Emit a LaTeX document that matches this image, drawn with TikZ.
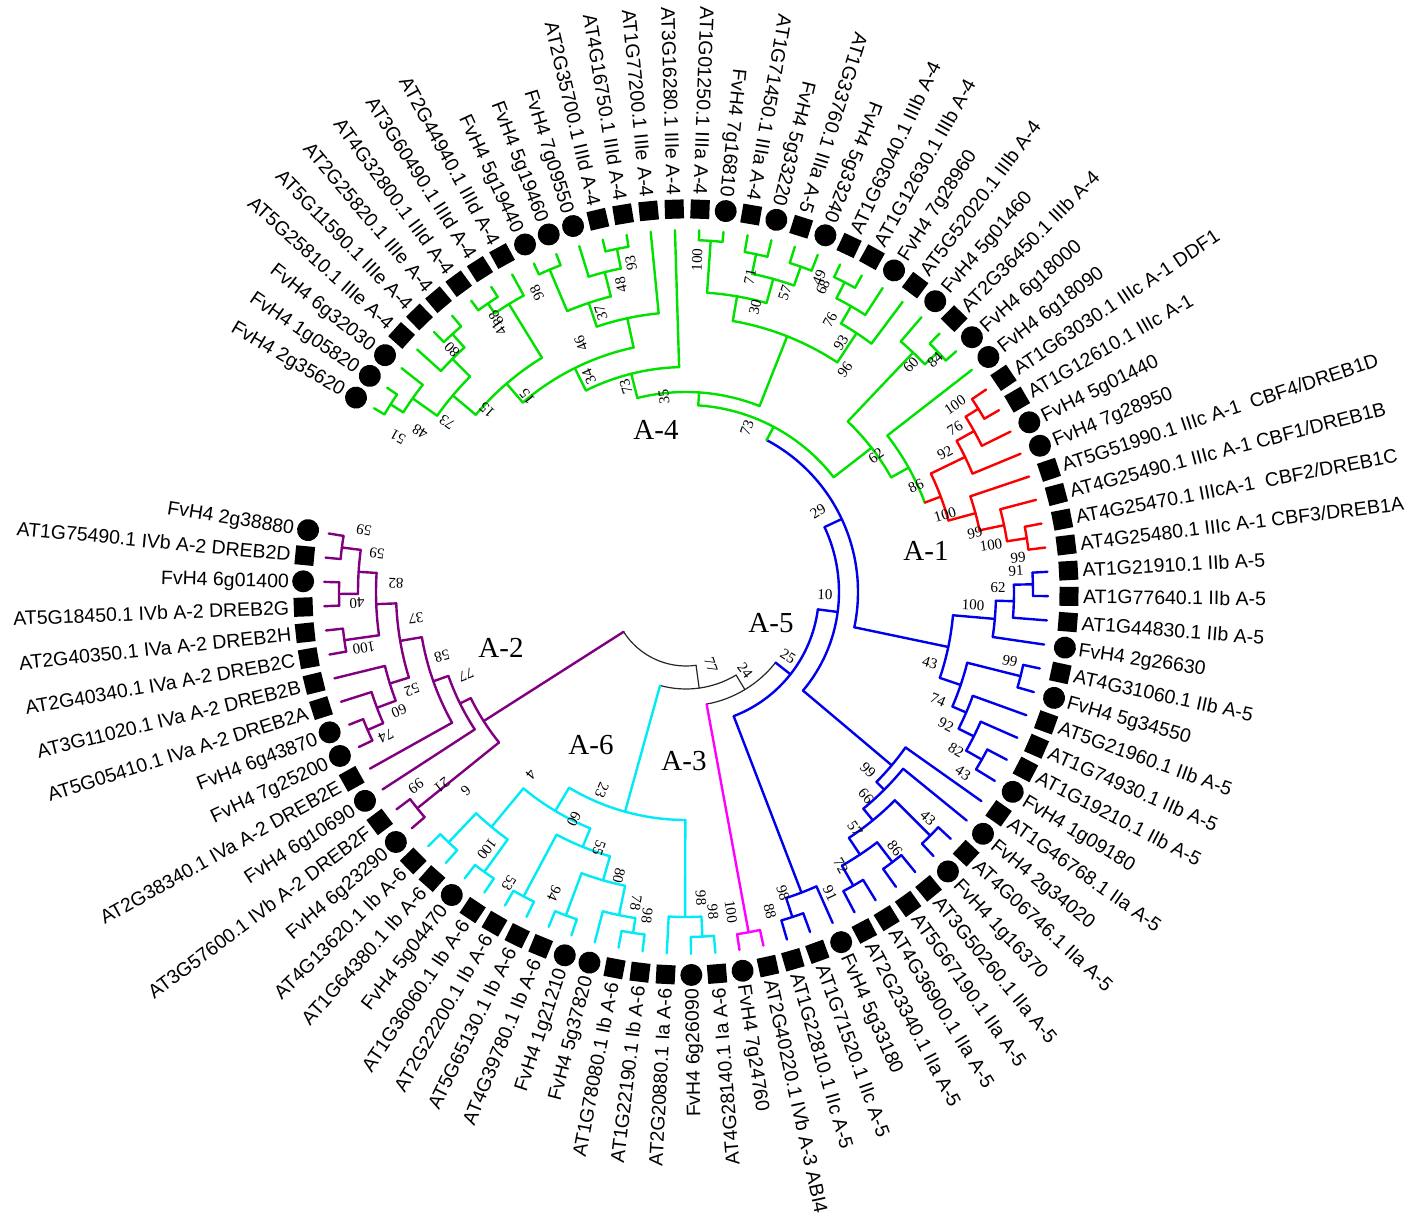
\documentclass[tikz,border=0pt]{standalone}
\usepackage{fontspec}
\setmainfont{Liberation Serif}
\newfontfamily\lsans{Liberation Sans}
\definecolor{cgreen}{RGB}{0,225,0}
\definecolor{cred}{RGB}{250,0,0}
\definecolor{cblue}{RGB}{0,0,235}
\definecolor{cpurple}{RGB}{128,0,128}
\definecolor{ccyan}{RGB}{0,235,245}
\definecolor{cmag}{RGB}{255,0,255}
\tikzset{
 bgreen/.style={draw=cgreen,line width=2.4pt,line cap=round},
 bred/.style={draw=cred,line width=2.4pt,line cap=round},
 bblue/.style={draw=cblue,line width=2.4pt,line cap=round},
 bpurple/.style={draw=cpurple,line width=2.4pt,line cap=round},
 bcyan/.style={draw=ccyan,line width=2.4pt,line cap=round},
 bmag/.style={draw=cmag,line width=2.4pt,line cap=round},
 bblack/.style={draw=black!85,line width=1.2pt,line cap=round},
 sqm/.style={rectangle,fill=black,minimum size=19pt,inner sep=0pt,outer sep=0pt},
 cim/.style={circle,fill=black,minimum size=22pt,inner sep=0pt,outer sep=0pt},
 lbl/.style={font=\lsans\fontsize{19.5}{22}\selectfont,inner sep=0pt,text height=14pt,text depth=0pt},
 bsl/.style={font=\fontsize{15}{17}\selectfont,inner sep=0pt},
 cll/.style={font=\fontsize{29}{32}\selectfont,inner sep=0pt},
}
\newcommand\A[1]{(149.5-3.85*((#1)-1))}
\newcommand\arcn[4]{\draw[#1] ({\A{#2}}:#4) arc[start angle={\A{#2}}, end angle={\A{#3}}, radius=#4pt];}
\newcommand\stem[4]{\draw[#1] ({\A{#2}}:#3) -- ({\A{#2}}:#4);}
\newcommand\nd[6]{\arcn{#1}{#2}{#4}{#6}\stem{#1}{#2}{#6}{#3}\stem{#1}{#4}{#6}{#5}}
\newcommand\lfR[3]{\node[#2,rotate={\A{#1}}] (m#1) at ({\A{#1}}:383) {};\node[lbl,anchor=west,rotate={\A{#1}}] (t#1) at ({\A{#1}}:397) {#3};}
\newcommand\lfL[3]{\node[#2,rotate={\A{#1}}] (m#1) at ({\A{#1}}:383) {};\node[lbl,anchor=east,rotate={\A{#1}+180}] (t#1) at ({\A{#1}}:397) {#3};}
\newcommand\bs[3]{\node[bsl,rotate={atan2(592-#2,#1-686)}] (b#1x#2) at ({#1-686},{592-#2}) {#3};}
\begin{document}
\begin{tikzpicture}[x=1pt,y=1pt]
\useasboundingbox (-686,-631) rectangle (730,592);
% ---------- A-4 (green)
\nd{bgreen}{1}{362}{2}{362}{350}
\nd{bgreen}{1.5}{350}{3}{362}{335}
\nd{bgreen}{5}{362}{6}{362}{348}
\nd{bgreen}{4}{362}{5.5}{348}{330}
\nd{bgreen}{2.25}{335}{4.75}{330}{305}
\nd{bgreen}{7}{362}{8}{362}{350}
\nd{bgreen}{7.5}{350}{9}{362}{338}
\nd{bgreen}{3.5}{305}{8.25}{338}{275}
\nd{bgreen}{10}{362}{11}{362}{350}
\nd{bgreen}{13}{362}{14}{362}{350}
\nd{bgreen}{12}{362}{13.5}{350}{330}
\nd{bgreen}{10.5}{350}{12.75}{330}{305}
\nd{bgreen}{11.625}{305}{15}{362}{280}
\nd{bgreen}{5.875}{275}{13.3125}{280}{250}
\nd{bgreen}{9.59375}{250}{16}{362}{225}
\nd{bgreen}{17}{362}{18}{362}{352}
\nd{bgreen}{19}{362}{20}{362}{345}
\nd{bgreen}{21}{362}{22}{362}{345}
\nd{bgreen}{19.5}{345}{21.5}{345}{325}
\nd{bgreen}{17.5}{352}{20.5}{325}{300}
\nd{bgreen}{23}{362}{24}{362}{348}
\nd{bgreen}{23.5}{348}{25}{362}{330}
\nd{bgreen}{24.25}{330}{26}{362}{310}
\nd{bgreen}{19}{300}{25.125}{310}{275}
\nd{bgreen}{12.796875}{225}{22.0625}{275}{200}
\nd{bgreen}{28}{362}{29}{362}{348}
\nd{bgreen}{27}{362}{28.5}{348}{330}
% ---------- A-1 (red)
\nd{bred}{31}{362}{32}{362}{345}
\nd{bred}{31.5}{345}{33}{362}{330}
\nd{bred}{32.25}{330}{34}{362}{310}
\nd{bred}{37}{362}{38}{362}{345}
\nd{bred}{36}{362}{37.5}{345}{325}
\nd{bred}{35}{362}{36.75}{325}{300}
\nd{bred}{33.125}{310}{35.875}{300}{272}
\arcn{bgreen}{30}{34.5}{255}\stem{bgreen}{30}{255}{362}\stem{bred}{34.5}{255}{272}
\nd{bgreen}{27.75}{330}{32.25}{255}{235}
\nd{bgreen}{17.4297}{200}{30}{235}{187}
% ---------- A-5 (blue)
\nd{bblue}{39}{362}{40}{362}{347}
\nd{bblue}{39.5}{347}{41}{362}{328}
\nd{bblue}{40.25}{328}{42}{362}{310}
\nd{bblue}{43}{362}{44}{362}{345}
\nd{bblue}{47}{362}{48}{362}{340}
\nd{bblue}{46}{362}{47.5}{340}{322}
\nd{bblue}{45}{362}{46.75}{322}{305}
\nd{bblue}{43.5}{345}{45.875}{305}{290}
\nd{bblue}{41.125}{310}{44.6875}{290}{268}
\arcn{bblue}{23.715}{42.90625}{172}\stem{bgreen}{23.715}{172}{187}\stem{bblue}{42.90625}{172}{268}
\nd{bblue}{51}{362}{52}{362}{345}
\nd{bblue}{53}{362}{54}{362}{340}
\nd{bblue}{55}{362}{56}{362}{338}
\nd{bblue}{53.5}{340}{55.5}{338}{315}
\nd{bblue}{51.5}{345}{54.5}{315}{295}
\nd{bblue}{50}{362}{53}{295}{280}
\nd{bblue}{49}{362}{51.5}{280}{269}
\nd{bblue}{33.31}{172}{50.25}{269}{153}
\nd{bblue}{58}{362}{59}{362}{342}
\nd{bblue}{57}{362}{58.5}{342}{322}
\nd{bblue}{41.78}{153}{57.75}{322}{133}
% ---------- A-3 (magenta)
\nd{bmag}{60}{362}{61}{362}{346}
\arcn{bblack}{49.765}{60.5}{114}\stem{bblue}{49.765}{114}{133}\stem{bmag}{60.5}{114}{346}
% ---------- A-6 (cyan)
\nd{bcyan}{62}{362}{63}{362}{345}
\nd{bcyan}{62.5}{345}{64}{362}{325}
\nd{bcyan}{65}{362}{66}{362}{345}
\nd{bcyan}{65.5}{345}{67}{362}{330}
\nd{bcyan}{68}{362}{69}{362}{345}
\nd{bcyan}{66.25}{330}{68.5}{345}{300}
\nd{bcyan}{70}{362}{71}{362}{345}
\nd{bcyan}{67.375}{300}{70.5}{345}{275}
\nd{bcyan}{72}{362}{73}{362}{345}
\nd{bcyan}{74}{362}{75}{362}{345}
\nd{bcyan}{72.5}{345}{74.5}{345}{305}
\nd{bcyan}{68.9375}{275}{73.5}{305}{255}
\nd{bcyan}{63.25}{325}{71.22}{255}{228}
\arcn{bblack}{55.13}{67.235}{97}\stem{bblack}{55.13}{97}{114}\stem{bcyan}{67.235}{97}{228}
% ---------- A-2 (purple)
\nd{bpurple}{88}{362}{89}{362}{347}
\nd{bpurple}{86}{362}{87}{362}{347}
\nd{bpurple}{86.5}{347}{88.5}{347}{328}
\nd{bpurple}{84}{362}{85}{362}{345}
\nd{bpurple}{84.5}{345}{87.5}{328}{310}
\nd{bpurple}{80}{362}{81}{362}{347}
\nd{bpurple}{80.5}{347}{82}{362}{330}
\nd{bpurple}{81.25}{330}{83}{362}{310}
\nd{bpurple}{82.125}{310}{86}{310}{290}
\nd{bpurple}{79}{362}{84.0625}{290}{268}
\nd{bpurple}{78}{362}{81.53}{268}{252}
\nd{bpurple}{76}{362}{77}{362}{345}
\nd{bpurple}{76.5}{345}{79.766}{252}{240}
\arcn{bblack}{61.18}{78.133}{74}\stem{bblack}{61.18}{74}{97}\stem{bpurple}{78.133}{74}{240}
% ---------- leaves
\lfL{1}{cim}{FvH4 2g35620}
\lfL{2}{cim}{FvH4 1g05820}
\lfL{3}{cim}{FvH4 6g32030}
\lfL{4}{sqm}{AT5G25810.1 IIIe A-4}
\lfL{5}{sqm}{AT5G11590.1 IIIe A-4}
\lfL{6}{sqm}{AT2G25820.1 IIIe A-4}
\lfL{7}{sqm}{AT4G32800.1 IIId A-4}
\lfL{8}{sqm}{AT3G60490.1 IIId A-4}
\lfL{9}{sqm}{AT2G44940.1 IIId A-4}
\lfL{10}{cim}{FvH4 5g19440}
\lfL{11}{cim}{FvH4 5g19460}
\lfL{12}{cim}{FvH4 7g09550}
\lfL{13}{sqm}{AT2G35700.1 IIId A-4}
\lfL{14}{sqm}{AT4G16750.1 IIId A-4}
\lfL{15}{sqm}{AT1G77200.1 IIIe A-4}
\lfL{16}{sqm}{AT3G16280.1 IIIe A-4}
\lfL{17}{sqm}{AT1G01250.1 IIIa A-4}
\lfL{18}{cim}{FvH4 7g16810}
\lfL{19}{sqm}{AT1G71450.1 IIIa A-4}
\lfL{20}{cim}{FvH4 5g33220}
\lfL{21}{sqm}{AT1G33760.1 IIIa A-5}
\lfL{22}{cim}{FvH4 5g33240}
\lfR{23}{sqm}{AT1G63040.1 IIIb A-4}
\lfR{24}{sqm}{AT1G12630.1 IIIb A-4}
\lfR{25}{cim}{FvH4 7g28960}
\lfR{26}{sqm}{AT5G52020.1 IIIb A-4}
\lfR{27}{cim}{FvH4 5g01460}
\lfR{28}{sqm}{AT2G36450.1 IIIb A-4}
\lfR{29}{cim}{FvH4 6g18000}
\lfR{30}{cim}{FvH4 6g18090}
\lfR{31}{sqm}{AT1G63030.1 IIIc A-1 DDF1}
\lfR{32}{sqm}{AT1G12610.1 IIIc A-1}
\lfR{33}{cim}{FvH4 5g01440}
\lfR{34}{cim}{FvH4 7g28950}
\lfR{35}{sqm}{AT5G51990.1 IIIc A-1 \ CBF4/DREB1D}
\lfR{36}{sqm}{AT4G25490.1 IIIc A-1 CBF1/DREB1B}
\lfR{37}{sqm}{AT4G25470.1 IIIcA-1 \ CBF2/DREB1C}
\lfR{38}{sqm}{AT4G25480.1 IIIc A-1 CBF3/DREB1A}
\lfR{39}{sqm}{AT1G21910.1 IIb A-5}
\lfR{40}{sqm}{AT1G77640.1 IIb A-5}
\lfR{41}{sqm}{AT1G44830.1 IIb A-5}
\lfR{42}{cim}{FvH4 2g26630}
\lfR{43}{sqm}{AT4G31060.1 IIb A-5}
\lfR{44}{cim}{FvH4 5g34550}
\lfR{45}{sqm}{AT5G21960.1 IIb A-5}
\lfR{46}{sqm}{AT1G74930.1 IIb A-5}
\lfR{47}{sqm}{AT1G19210.1 IIb A-5}
\lfR{48}{cim}{FvH4 1g09180}
\lfR{49}{sqm}{AT1G46768.1 IIa A-5}
\lfR{50}{cim}{FvH4 2g34020}
\lfR{51}{sqm}{AT4G06746.1 IIa A-5}
\lfR{52}{cim}{FvH4 1g16370}
\lfR{53}{sqm}{AT3G50260.1 IIa A-5}
\lfR{54}{sqm}{AT5G67190.1 IIa A-5}
\lfR{55}{sqm}{AT4G36900.1 IIa A-5}
\lfR{56}{sqm}{AT2G23340.1 IIa A-5}
\lfR{57}{cim}{FvH4 5g33180}
\lfR{58}{sqm}{AT1G71520.1 IIc A-5}
\lfR{59}{sqm}{AT1G22810.1 IIc A-5}
\lfR{60}{sqm}{AT2G40220.1 IVb A-3 ABI4}
\lfR{61}{cim}{FvH4 7g24760}
\lfL{62}{sqm}{AT4G28140.1 Ia A-6}
\lfL{63}{cim}{FvH4 6g26090}
\lfL{64}{sqm}{AT2G20880.1 Ia A-6}
\lfL{65}{sqm}{AT1G22190.1 Ib A-6}
\lfL{66}{sqm}{AT1G78080.1 Ib A-6}
\lfL{67}{cim}{FvH4 5g37820}
\lfL{68}{cim}{FvH4 1g21210}
\lfL{69}{sqm}{AT4G39780.1 Ib A-6}
\lfL{70}{sqm}{AT5G65130.1 Ib A-6}
\lfL{71}{sqm}{AT2G22200.1 Ib A-6}
\lfL{72}{sqm}{AT1G36060.1 Ib A-6}
\lfL{73}{cim}{FvH4 5g04470}
\lfL{74}{sqm}{AT1G64380.1 Ib A-6}
\lfL{75}{sqm}{AT4G13620.1 Ib A-6}
\lfL{76}{cim}{FvH4 6g23290}
\lfL{77}{sqm}{AT3G57600.1 IVb A-2 DREB2F}
\lfL{78}{cim}{FvH4 6g10690}
\lfL{79}{sqm}{AT2G38340.1 IVa A-2 DREB2E}
\lfL{80}{cim}{FvH4 7g25200}
\lfL{81}{cim}{FvH4 6g43870}
\lfL{82}{sqm}{AT5G05410.1 IVa A-2 DREB2A}
\lfL{83}{sqm}{AT3G11020.1 IVa A-2 DREB2B}
\lfL{84}{sqm}{AT2G40340.1 IVa A-2 DREB2C}
\lfL{85}{sqm}{AT2G40350.1 IVa A-2 DREB2H}
\lfL{86}{sqm}{AT5G18450.1 IVb A-2 DREB2G}
\lfL{87}{cim}{FvH4 6g01400}
\lfL{88}{sqm}{AT1G75490.1 IVb A-2 DREB2D}
\lfL{89}{cim}{FvH4 2g38880}
% ---------- bootstrap values
\bs{398}{437}{51}\bs{420}{432}{48}\bs{447}{422}{73}\bs{452}{350}{80}\bs{487}{410}{15}
\bs{496}{318}{88}\bs{499}{328}{41}\bs{537}{293}{98}\bs{527}{397}{15}\bs{631}{263}{93}
\bs{621}{285}{48}\bs{601}{313}{37}\bs{581}{343}{46}\bs{589}{377}{34}\bs{626}{387}{73}
\bs{664}{397}{35}\bs{697}{260}{100}\bs{750}{277}{71}\bs{785}{293}{57}\bs{755}{307}{30}
\bs{819}{278}{49}\bs{823}{287}{68}\bs{830}{320}{76}\bs{841}{343}{93}\bs{845}{370}{96}
\bs{911}{365}{60}\bs{935}{360}{84}\bs{747}{428}{73}\bs{876}{456}{62}\bs{916}{486}{86}
\bs{955}{405}{100}\bs{955}{428}{76}\bs{945}{453}{92}\bs{945}{515}{100}\bs{975}{533}{99}
\bs{991}{545}{100}\bs{1018}{558}{99}
\bs{1016}{571}{91}\bs{998}{588}{62}\bs{973}{605}{100}\bs{818}{511}{29}\bs{825}{595}{10}
\bs{788}{656}{25}\bs{930}{663}{43}\bs{1010}{661}{99}\bs{938}{700}{74}\bs{946}{725}{92}
\bs{956}{750}{82}\bs{963}{773}{43}\bs{868}{770}{99}\bs{866}{796}{66}\bs{855}{829}{57}
\bs{928}{818}{43}\bs{895}{848}{86}\bs{841}{866}{72}\bs{830}{893}{91}\bs{783}{893}{98}
\bs{770}{911}{88}
\bs{711}{665}{77}\bs{745}{671}{24}
\bs{731}{912}{100}
\bs{713}{912}{98}\bs{701}{898}{98}\bs{602}{790}{23}\bs{531}{775}{4}\bs{574}{819}{60}
\bs{599}{848}{55}\bs{619}{876}{80}\bs{636}{903}{78}\bs{647}{916}{98}\bs{554}{893}{94}
\bs{509}{883}{53}\bs{487}{849}{100}\bs{466}{791}{6}\bs{442}{785}{21}
\bs{416}{786}{99}\bs{364}{530}{59}\bs{377}{553}{59}\bs{396}{583}{82}\bs{357}{603}{40}
\bs{416}{618}{37}\bs{364}{648}{100}\bs{442}{656}{58}\bs{466}{675}{77}\bs{412}{690}{52}
\bs{399}{711}{60}\bs{386}{736}{74}
% ---------- clade labels
\node[cll] (cA4) at (-30,162) {A-4};
\node[cll] (cA1) at (240,41) {A-1};
\node[cll] (cA2) at (-185,-56) {A-2};
\node[cll] (cA5) at (85,-31) {A-5};
\node[cll] (cA6) at (-95,-153) {A-6};
\node[cll] (cA3) at (-2,-169) {A-3};
\end{tikzpicture}
\end{document}
